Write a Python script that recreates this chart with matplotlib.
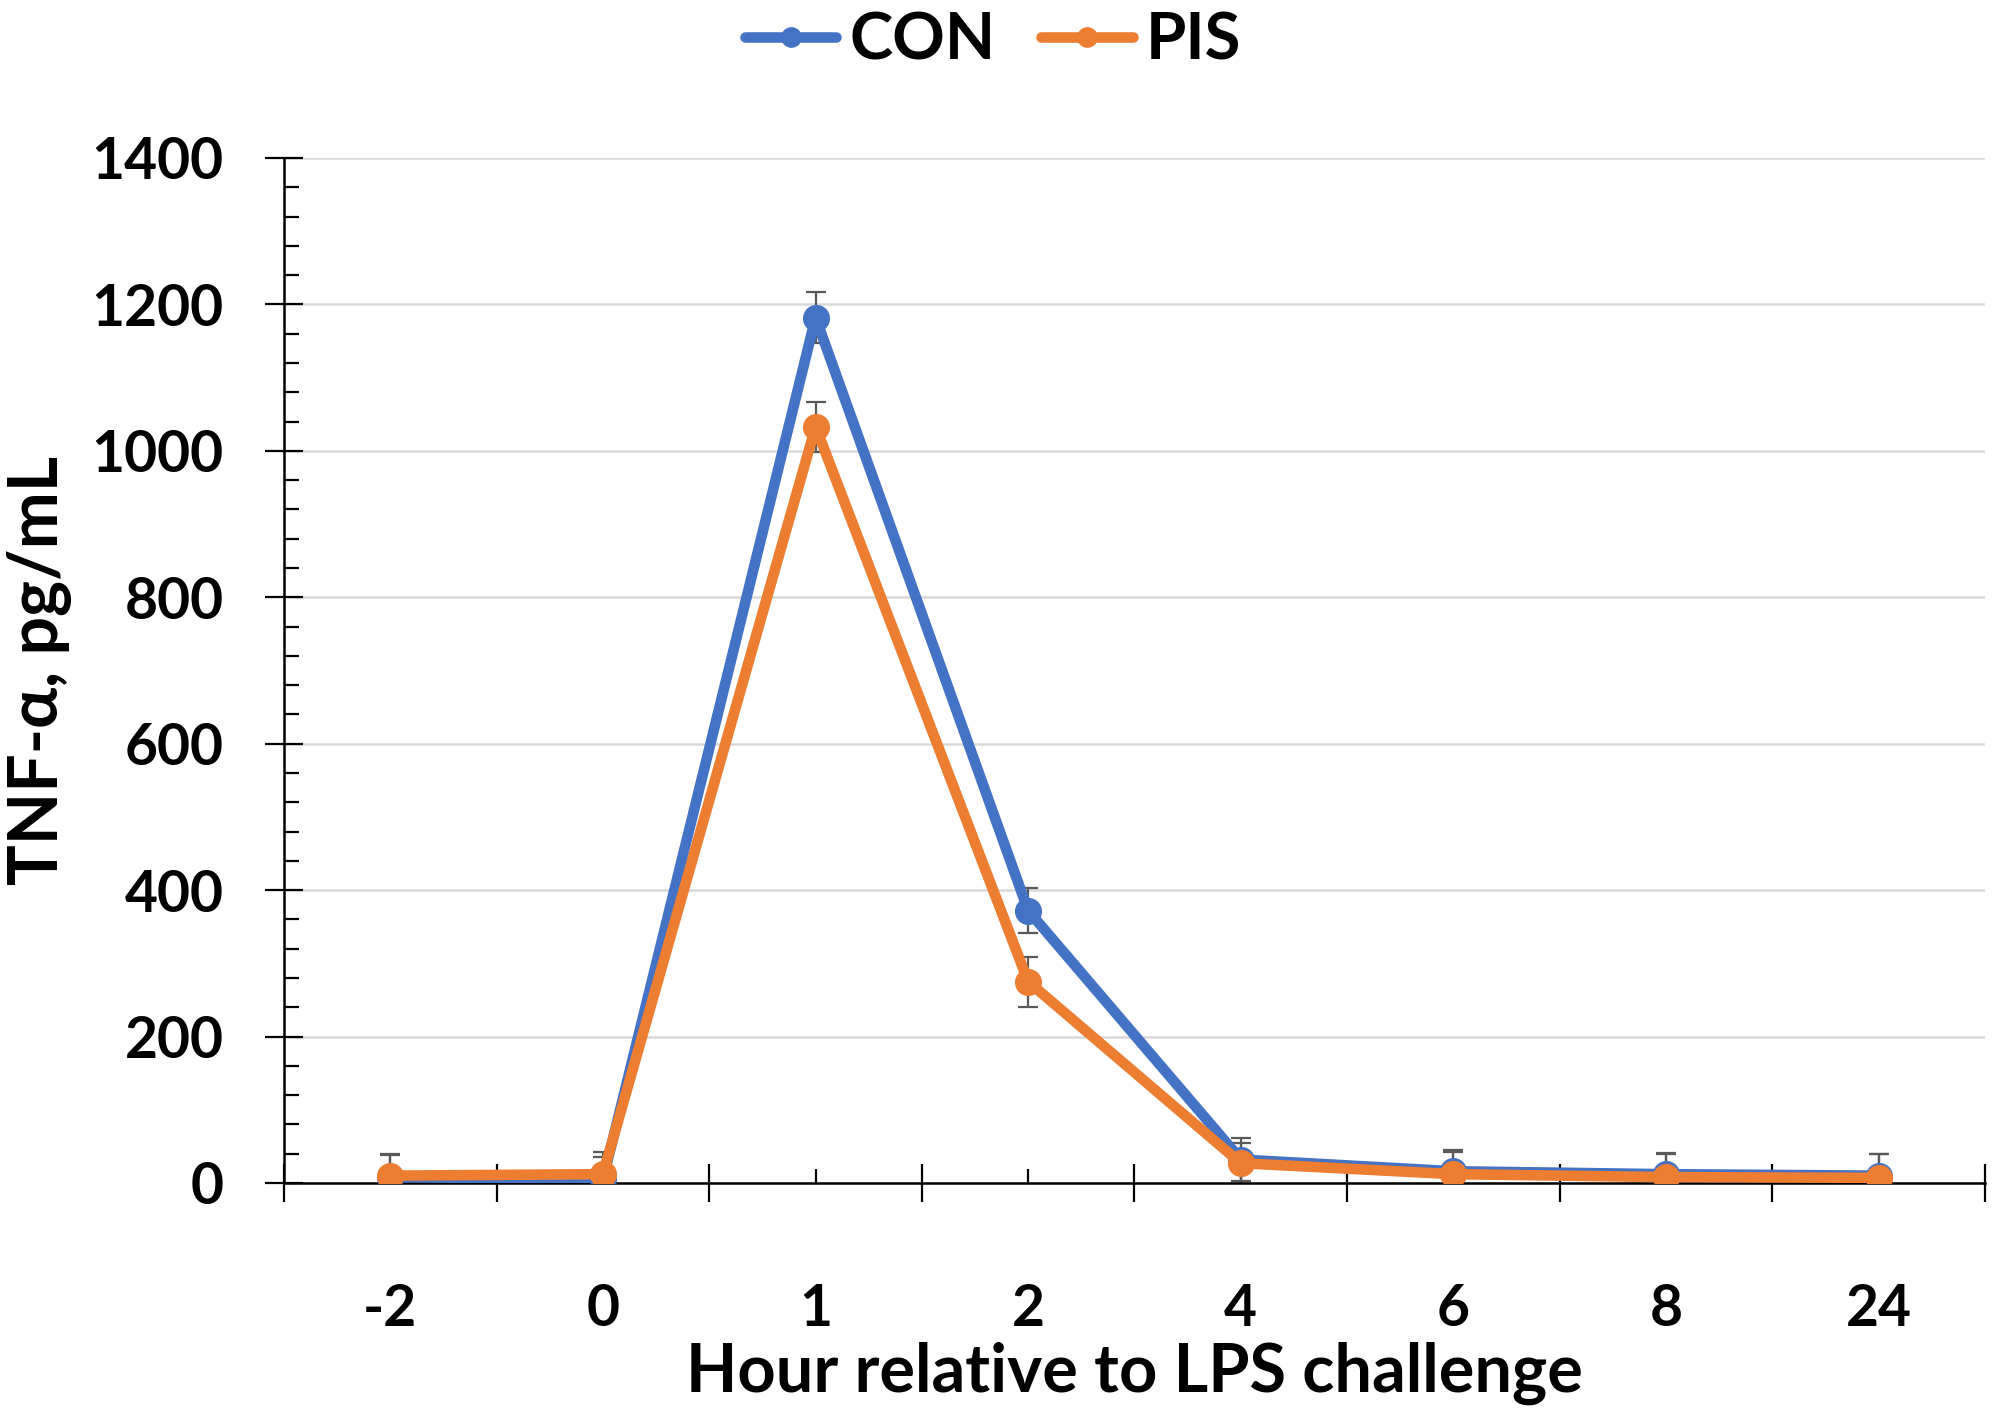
import matplotlib.pyplot as plt
from matplotlib.ticker import FixedLocator, MultipleLocator, NullFormatter, FixedFormatter

# Werte
hours = ['-2', '0', '1', '2', '4', '6', '8', '24']
con = [8, 5, 1182, 372, 32, 16, 12, 10]
con_se = [30, 31, 35, 31, 29, 29, 29, 29]
pis = [10, 12, 1033, 275, 27, 12, 8, 7]
pis_se = [29, 30, 34, 34, 28, 30, 31, 32]

plt.rcParams['font.family'] = ['Lato', 'DejaVu Sans']
plt.rcParams['font.weight'] = 'bold'

fig = plt.figure(figsize=(20.06, 14.14), dpi=100)
ax = fig.add_axes([0.1416, 0.1634, 0.8479, 0.7249])

x = list(range(len(hours)))

# Fehlerbalken
ax.errorbar(x, con, yerr=con_se, fmt='none', ecolor='#595959', elinewidth=1.6,
            capsize=7.5, capthick=1.6, zorder=2)
ax.errorbar(x, pis, yerr=pis_se, fmt='none', ecolor='#595959', elinewidth=1.6,
            capsize=7.5, capthick=1.6, zorder=2)

ax.plot(x, con, color='#4472C4', lw=7.6, marker='o', ms=18.5, label='CON',
        solid_joinstyle='round', solid_capstyle='round', zorder=3)
ax.plot(x, pis, color='#ED7D31', lw=7.6, marker='o', ms=18.5, label='PIS',
        solid_joinstyle='round', solid_capstyle='round', zorder=4)

ax.set_xlim(-0.5, len(hours) - 0.5)
ax.set_ylim(0, 1400)

# Y-Achse
ax.yaxis.set_major_locator(MultipleLocator(200))
ax.yaxis.set_minor_locator(MultipleLocator(40))
ax.tick_params(axis='y', which='major', direction='inout', length=27, width=1.6,
               labelsize=41, pad=30)
ax.tick_params(axis='y', which='minor', direction='in', length=11, width=1.6)
ax.grid(axis='y', which='major', color='#D9D9D9', lw=1.8, zorder=0)

# X-Achse: Striche an den Grenzen, Beschriftung in der Mitte
ax.xaxis.set_major_locator(FixedLocator([i - 0.5 for i in range(len(hours) + 1)]))
ax.xaxis.set_major_formatter(NullFormatter())
ax.xaxis.set_minor_locator(FixedLocator(x))
ax.xaxis.set_minor_formatter(FixedFormatter(hours))
ax.tick_params(axis='x', which='major', direction='inout', length=27, width=1.6)
ax.tick_params(axis='x', which='minor', direction='in', length=10, width=1.6,
               labelsize=41, pad=72)

for s in ['top', 'right']:
    ax.spines[s].set_visible(False)
for s in ['left', 'bottom']:
    ax.spines[s].set_linewidth(1.8)
ax.set_axisbelow(True)

for lab in ax.get_xticklabels(minor=True) + ax.get_yticklabels():
    lab.set_fontweight('bold')

ax.set_xlabel('Hour relative to LPS challenge', fontsize=48, fontweight='bold', va='center')
ax.xaxis.set_label_coords(0.5, -0.186)
ax.set_ylabel('TNF-α, pg/mL', fontsize=49, fontweight='bold', labelpad=14)

fig.legend(loc='center', bbox_to_anchor=(0.495, 0.971), ncol=2, frameon=False,
           fontsize=47, handlelength=1.4, handletextpad=0.2, columnspacing=0.7,
           markerscale=0.75)

fig.savefig('out.png', dpi=100)
